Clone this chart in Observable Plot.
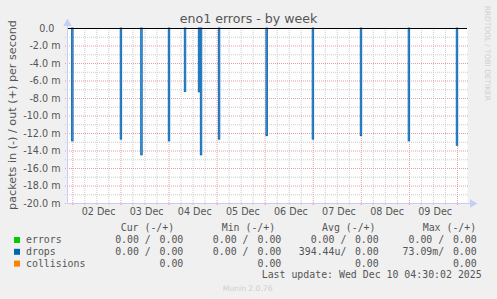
<!DOCTYPE html>
<html><head><meta charset="utf-8">
<script src="https://cdn.jsdelivr.net/npm/d3@7"></script>
<script src="https://cdn.jsdelivr.net/npm/@observablehq/plot@0.6"></script>
<style>
html,body{margin:0;padding:0;background:#f0f0f0;overflow:hidden;}
svg text{white-space:pre;}
</style></head><body><div id="chart"></div>
<script>
// ---- data ----
const title = "eno1 errors - by week";
const yLabel = "packets in (-) / out (+) per second";
const xDomain = ["2025-12-01T21:20:00Z", "2025-12-10T05:00:00Z"];
// drops (in) spikes: time and value in milli-packets/s (drawn negative)
const spikeTimes = [
  "2025-12-02T00:00:00Z", "2025-12-03T00:15:00Z", "2025-12-03T10:30:00Z",
  "2025-12-04T00:15:00Z", "2025-12-04T08:15:00Z", "2025-12-04T15:15:00Z",
  "2025-12-04T16:15:00Z", "2025-12-05T01:15:00Z", "2025-12-06T01:00:00Z",
  "2025-12-07T00:05:00Z", "2025-12-08T00:05:00Z", "2025-12-09T00:00:00Z",
  "2025-12-10T00:00:00Z"
];
const dropsIn = [12.9, 12.7, 14.5, 12.9, 7.25, 7.3, 14.5, 12.7, 12.3, 12.7, 12.3, 12.9, 13.4];
const dayTicks = ["2025-12-02","2025-12-03","2025-12-04","2025-12-05","2025-12-06","2025-12-07","2025-12-08","2025-12-09","2025-12-10"];
const dayLabels = ["02 Dec","03 Dec","04 Dec","05 Dec","06 Dec","07 Dec","08 Dec","09 Dec"];
const labelDays = ["2025-12-02T12:00:00Z","2025-12-03T12:00:00Z","2025-12-04T12:00:00Z","2025-12-05T12:00:00Z","2025-12-06T12:00:00Z","2025-12-07T12:00:00Z","2025-12-08T12:00:00Z","2025-12-09T12:00:00Z"];
const yTicks = [0,-2,-4,-6,-8,-10,-12,-14,-16,-18,-20];
const yMinorTicks = [-1,-3,-5,-7,-9,-11,-13,-15,-17,-19];
const legendNames = ["errors","drops","collisions"];
const legendColors = ["#00cc00","#0066b3","#ff8000"];
const legendHeaders = ["Cur (-/+)","Min (-/+)","Avg (-/+)","Max (-/+)"];
const curIn = ["0.00 /","0.00 /",""];
const curOut = ["0.00","0.00","0.00"];
const minIn = ["0.00 /","0.00 /",""];
const minOut = ["0.00","0.00","0.00"];
const avgIn = ["0.00 /","394.44u/",""];
const avgOut = ["0.00","0.00","0.00"];
const maxIn = ["0.00 /","73.09m/",""];
const maxOut = ["0.00","0.00","0.00"];
const lastUpdate = "Last update: Wed Dec 10 04:30:02 2025";
const version = "Munin 2.0.76";
const watermark = "RRDTOOL / TOBI OETIKER";

// ---- build ----
const spikes = spikeTimes.map((t, i) => ({t: new Date(t), v: -dropsIn[i]}));
const x0 = new Date(xDomain[0]), x1 = new Date(xDomain[1]);
const majorX = dayTicks.map(d => new Date(d + "T00:00:00Z"));
const minorX = d3.utcHour.every(6).range(x0, x1).filter(d => d.getUTCHours() !== 0);
const noon = labelDays.map(d => new Date(d));
const axisColor = "#c8cdf5";
const minorColor = "#cccccc";
const majorColor = "#e99d9d";

const chart = Plot.plot({
  width: 497, height: 299,
  marginLeft: 67, marginRight: 30, marginTop: 28, marginBottom: 96,
  style: {background: "#f0f0f0", color: "#555", fontFamily: "DejaVu Sans", fontSize: "9.6px"},
  x: {type: "utc", domain: [x0, x1], axis: null},
  y: {domain: [-20, 0], axis: null},
  marks: [
    Plot.frame({fill: "white", stroke: "none"}),
    Plot.ruleY(yMinorTicks, {stroke: minorColor, strokeDasharray: "1,1", insetLeft: -2, insetRight: -2}),
    Plot.ruleX(minorX, {stroke: minorColor, strokeDasharray: "1,1", insetBottom: -2}),
    Plot.ruleY(yTicks.filter(d => d !== 0), {stroke: majorColor, strokeDasharray: "1,1", insetLeft: -2, insetRight: -2}),
    Plot.ruleX(majorX, {stroke: majorColor, strokeDasharray: "1,1", insetBottom: -3}),
    Plot.rectY(spikes, {
      x1: d => d3.utcMinute.offset(d.t, -22),
      x2: d => d3.utcMinute.offset(d.t, 22),
      y1: 0, y2: "v",
      fill: "#5d9ed6", stroke: "#0066b3", strokeWidth: 0.9
    }),
    Plot.ruleY([0], {stroke: "#000", strokeWidth: 1}),
    Plot.ruleY([-20], {stroke: axisColor, insetRight: -3}),
    Plot.ruleX([x0], {stroke: axisColor, insetTop: -3}),
    Plot.dot([0], {x: () => x0, y: () => 0, symbol: "triangle", r: 3.2, fill: axisColor, stroke: "none", dy: -5}),
    Plot.dot([0], {x: () => x1, y: () => -20, symbol: "triangle", r: 3.2, fill: axisColor, stroke: "none", dx: 5, rotate: 90}),
    Plot.axisY({ticks: yTicks, tickFormat: d => d === 0 ? "0.0\u00a0\u00a0" : d.toFixed(1) + " m", tickSize: 0, tickPadding: 7, fontSize: 9.6, label: null}),
    Plot.axisX({ticks: noon, tickFormat: (d, i) => dayLabels[i], tickSize: 0, tickPadding: 4.6, dx: 1.7, fontSize: 9.6, label: null})
  ]
});
document.getElementById("chart").appendChild(chart);

// ---- texts around the plot ----
const svg = d3.select(chart);
const g = svg.append("g").attr("fill", "#555").attr("font-family", "DejaVu Sans").attr("text-anchor", "middle");
g.append("text").attr("x", 248.5).attr("y", 23).attr("font-size", 12.6).text(title);
g.append("text").attr("transform", "translate(15.5,115) rotate(-90)").attr("font-size", 11.2).text(yLabel);
g.append("text").attr("transform", "translate(484.7,53.3) rotate(90)").attr("font-size", 7.4).attr("fill", "#cfcfcf").text(watermark);
g.append("text").attr("x", 247.7).attr("y", 290.5).attr("font-size", 7.6).attr("fill", "#cfcfcf").text(version);

const lg = svg.append("g").attr("fill", "#555").attr("font-family", "DejaVu Sans Mono").attr("font-size", 9.9).attr("text-anchor", "start");
const headerX = [120.7, 221.7, 322, 422.7];
legendHeaders.forEach((h, i) => lg.append("text").attr("x", headerX[i]).attr("y", 230.7).text(h));
const rowY = [243, 254.8, 266.6];
const inEnd = [150.8, 248.5, 346.4, 444.2];
const outEnd = [183.3, 281.3, 378.7, 476.7];
const ins = [curIn, minIn, avgIn, maxIn];
const outs = [curOut, minOut, avgOut, maxOut];
legendNames.forEach((n, r) => {
  lg.append("rect").attr("x", 14).attr("y", rowY[r] - 6).attr("width", 6).attr("height", 6).attr("fill", legendColors[r]);
  lg.append("text").attr("x", 26).attr("y", rowY[r]).text(n);
  for (let c = 0; c < 4; c++) {
    if (ins[c][r]) lg.append("text").attr("x", inEnd[c]).attr("y", rowY[r]).attr("text-anchor", "end").text(ins[c][r]);
    lg.append("text").attr("x", outEnd[c]).attr("y", rowY[r]).attr("text-anchor", "end").text(outs[c][r]);
  }
});
lg.append("text").attr("x", 261.7).attr("y", 278.4).text(lastUpdate);
</script></body></html>
